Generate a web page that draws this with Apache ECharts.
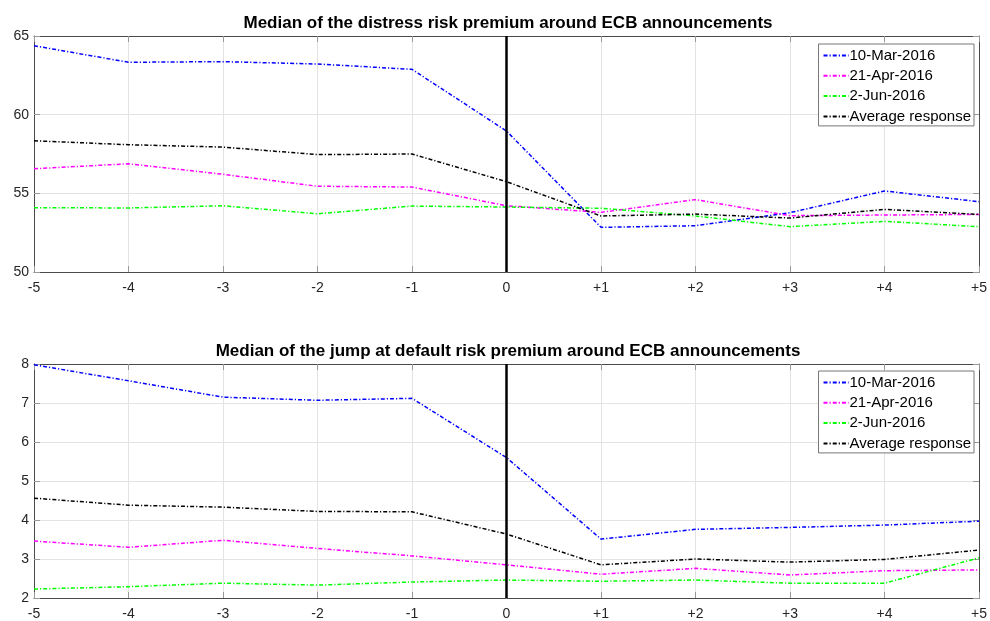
<!DOCTYPE html>
<html><head><meta charset="utf-8">
<script src="https://cdn.jsdelivr.net/npm/echarts@6/dist/echarts.min.js"></script>
<style>html,body{margin:0;padding:0;background:#fff}#c{width:990px;height:621px}</style>
</head><body><div id="c"></div>
<script>
var xTickLabels = ['-5','-4','-3','-2','-1','0','+1','+2','+3','+4','+5'];
var seriesNames = ['10-Mar-2016','21-Apr-2016','2-Jun-2016','Average response'];
var seriesColors = ['#0000ff','#ff00ff','#00ff00','#000000'];

// Top panel: distress risk premium
var distressMar = [64.38, 63.33, 63.37, 63.22, 62.88, 58.96, 52.84, 52.94, 53.77, 55.15, 54.47];
var distressApr = [56.56, 56.88, 56.21, 55.45, 55.40, 54.21, 53.79, 54.60, 53.58, 53.62, 53.66];
var distressJun = [54.09, 54.07, 54.21, 53.70, 54.19, 54.13, 54.05, 53.56, 52.88, 53.22, 52.88];
var distressAvg = [58.34, 58.09, 57.94, 57.46, 57.50, 55.74, 53.56, 53.68, 53.43, 53.98, 53.66];

// Bottom panel: jump at default risk premium
var jumpMar = [7.98, 7.57, 7.15, 7.07, 7.12, 5.60, 3.51, 3.76, 3.81, 3.87, 3.97];
var jumpApr = [3.46, 3.30, 3.48, 3.27, 3.08, 2.85, 2.61, 2.76, 2.59, 2.70, 2.72];
var jumpJun = [2.23, 2.29, 2.38, 2.33, 2.41, 2.46, 2.43, 2.46, 2.38, 2.38, 3.03];
var jumpAvg = [4.56, 4.38, 4.33, 4.22, 4.21, 3.64, 2.85, 3.00, 2.92, 2.99, 3.23];

var titles = ['Median of the distress risk premium around ECB announcements',
              'Median of the jump at default risk premium around ECB announcements'];
var yRanges = [[50, 65, 5], [2, 8, 1]];

var FONT = '"Liberation Sans", Arial, Helvetica, sans-serif';
var AX = '#4a4a4a';
var GRIDC = '#e3e3e3';
var dash = [4, 2, 1.2, 2];

var chart = echarts.init(document.getElementById('c'));
var grids = [{left:34, right:8, top:36, height:236}, {left:34, right:8, top:364, height:235}];
var legendTops = [44, 371];
var panelData = [[distressMar, distressApr, distressJun, distressAvg], [jumpMar, jumpApr, jumpJun, jumpAvg]];

var xAxes = [], yAxes = [], series = [], legends = [], titleOpts = [];
for (var g = 0; g < 2; g++) {
  xAxes.push({
    type:'category', gridIndex:g, data:xTickLabels, boundaryGap:false,
    axisLine:{show:true, lineStyle:{color:AX, width:1}},
    axisTick:{show:true, inside:true, length:6, lineStyle:{color:'#999'}},
    axisLabel:{color:'#262626', fontSize:14, fontFamily:FONT, margin:9},
    splitLine:{show:true, lineStyle:{color:GRIDC, width:1}}
  });
  xAxes.push({
    type:'category', gridIndex:g, data:xTickLabels, boundaryGap:false, position:'top',
    axisLine:{show:true, lineStyle:{color:AX, width:1}},
    axisTick:{show:true, inside:true, length:6, lineStyle:{color:'#999'}},
    axisLabel:{show:false}, splitLine:{show:false}
  });
  yAxes.push({
    type:'value', gridIndex:g, min:yRanges[g][0], max:yRanges[g][1], interval:yRanges[g][2],
    axisLine:{show:true, lineStyle:{color:AX, width:1}},
    axisTick:{show:true, inside:true, length:6, lineStyle:{color:'#999'}},
    axisLabel:{color:'#262626', fontSize:14, fontFamily:FONT, margin:5},
    splitLine:{show:true, lineStyle:{color:GRIDC, width:1}}
  });
  yAxes.push({
    type:'value', gridIndex:g, min:yRanges[g][0], max:yRanges[g][1], interval:yRanges[g][2], position:'right',
    axisLine:{show:true, lineStyle:{color:AX, width:1}},
    axisTick:{show:true, inside:true, length:6, lineStyle:{color:'#999'}},
    axisLabel:{show:false}, splitLine:{show:false}
  });
  for (var s = 0; s < 4; s++) {
    var ser = {
      name: seriesNames[s], type:'line', xAxisIndex:2*g, yAxisIndex:2*g,
      data: panelData[g][s], symbol:'none', animation:false,
      itemStyle:{color:seriesColors[s]},
      lineStyle:{color:seriesColors[s], width:1.5, type:dash}
    };
    if (s === 0) {
      ser.markLine = {
        silent:true, symbol:'none', animation:false,
        label:{show:false},
        lineStyle:{color:'#000', width:2.5, type:'solid'},
        data:[{xAxis:'0'}]
      };
    }
    series.push(ser);
  }
  legends.push({
    data: seriesNames, orient:'vertical', right:16, top:legendTops[g],
    itemWidth:25, itemHeight:14, itemGap:5.3,
    padding:[4,3,2,4], backgroundColor:'#fff', borderColor:'#777', borderWidth:1, borderRadius:0,
    itemStyle:{opacity:0},
    textStyle:{color:'#000', fontSize:15, lineHeight:14, fontFamily:FONT, padding:[0,0,0,-4]},
    selectedMode:false
  });
  titleOpts.push({
    text: titles[g], left:508, top: g === 0 ? 15 : 343, textAlign:'center', padding:0,
    textStyle:{fontSize:17, fontWeight:'bold', color:'#000', fontFamily:FONT}
  });
}

chart.setOption({
  animation:false,
  backgroundColor:'#fff',
  title: titleOpts,
  grid: grids,
  xAxis: xAxes,
  yAxis: yAxes,
  legend: legends,
  series: series
});
</script></body></html>
